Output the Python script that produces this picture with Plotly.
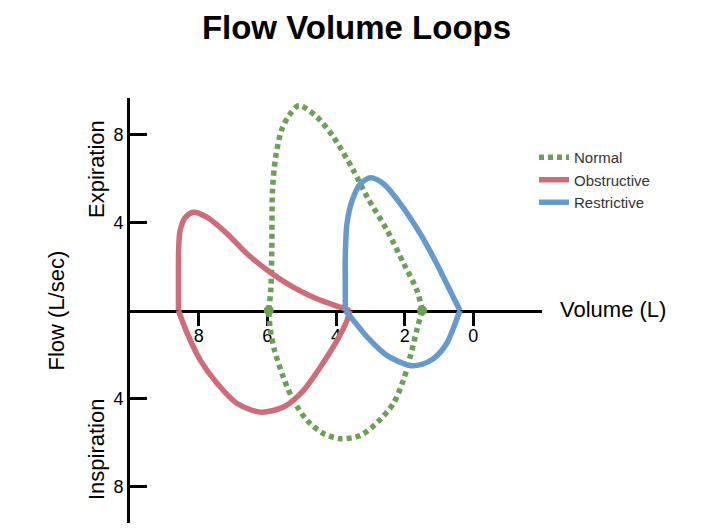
import plotly.graph_objects as go

# ---- data (volume in L, flow in L/sec; expiration positive) ----
normal_exp_vol = [5.96, 5.90, 5.87, 5.85, 5.76, 5.59, 5.37, 5.08, 4.55, 4.07, 3.49, 3.09, 2.51, 2.03, 1.64, 1.49]
normal_exp_flow = [0.0, 0.91, 2.73, 5.45, 6.95, 8.18, 8.86, 9.32, 8.79, 7.88, 6.36, 5.15, 3.64, 2.14, 0.91, 0.0]
normal_insp_vol = [1.49, 1.65, 1.83, 2.04, 2.33, 2.77, 3.29, 3.87, 4.37, 4.84, 5.24, 5.53, 5.79, 5.91, 5.96]
normal_insp_flow = [0.0, -0.91, -2.05, -3.18, -4.23, -5.05, -5.68, -5.83, -5.59, -5.0, -4.09, -3.05, -1.82, -0.91, 0.0]

obstr_exp_vol = [8.59, 8.59, 8.58, 8.54, 8.39, 8.15, 7.76, 7.18, 6.60, 5.92, 5.25, 4.56, 3.88, 3.59]
obstr_exp_flow = [0.0, 1.82, 2.95, 3.64, 4.23, 4.47, 4.24, 3.50, 2.59, 1.74, 1.06, 0.53, 0.15, 0.0]
obstr_insp_vol = [3.59, 3.68, 3.97, 4.46, 4.95, 5.53, 6.20, 6.88, 7.46, 7.95, 8.33, 8.59]
obstr_insp_flow = [0.0, -0.45, -1.36, -2.58, -3.64, -4.39, -4.62, -4.23, -3.32, -2.27, -1.05, 0.0]

restr_exp_vol = [3.73, 3.73, 3.73, 3.68, 3.53, 3.29, 3.00, 2.62, 2.13, 1.55, 1.07, 0.68, 0.39]
restr_exp_flow = [0.0, 1.36, 2.42, 3.95, 5.00, 5.76, 6.03, 5.76, 4.86, 3.50, 2.14, 0.91, 0.0]
restr_insp_vol = [0.39, 0.53, 0.78, 1.17, 1.50, 1.84, 2.51, 3.09, 3.49, 3.73]
restr_insp_flow = [0.0, -0.59, -1.51, -2.20, -2.45, -2.50, -2.05, -1.21, -0.45, 0.0]

normal_points_vol = [5.96, 1.49]
normal_points_flow = [0.0, 0.0]

x_tickvals = [8, 6, 4, 2, 0]
x_ticktext = ["8", "6", "4", "2", "0"]
y_tickvals = [8, 4, -4, -8]
y_ticktext = ["8", "4", "4", "8"]

GREEN = "#6c9f57"
RED = "#cd6d79"
BLUE = "#6799ca"
FONT = "Liberation Sans, Arial, sans-serif"
LW = 5.5

# page body adds an 8px offset; compensate so the plot sits where the reference has it
OFF = 8
L, T = 130 - OFF, 98 - OFF
PW, PH = 412, 425

fig = go.Figure()

def loop(name, color, ev, ef, iv, if_, dash="solid"):
    fig.add_trace(go.Scatter(x=ev, y=ef, mode="lines", name=name, legendgroup=name,
                             line=dict(color=color, width=LW, dash=dash, shape="spline", smoothing=0.8)))
    fig.add_trace(go.Scatter(x=iv, y=if_, mode="lines", name=name, legendgroup=name, showlegend=False,
                             line=dict(color=color, width=LW, dash=dash, shape="spline", smoothing=0.8)))

loop("Normal", GREEN, normal_exp_vol, normal_exp_flow, normal_insp_vol, normal_insp_flow, dash="5px,4px")
loop("Obstructive", RED, obstr_exp_vol, obstr_exp_flow, obstr_insp_vol, obstr_insp_flow)
loop("Restrictive", BLUE, restr_exp_vol, restr_exp_flow, restr_insp_vol, restr_insp_flow)
fig.add_trace(go.Scatter(x=normal_points_vol, y=normal_points_flow, mode="markers", showlegend=False,
                         marker=dict(color=GREEN, size=10)))

fig.update_layout(
    width=702, height=530,
    margin=dict(l=L, r=702 - L - PW, t=T, b=530 - T - PH, autoexpand=False),
    paper_bgcolor="white", plot_bgcolor="white",
    font=dict(family=FONT, color="black"),
    title=dict(text="<b>Flow Volume Loops</b>", x=(356.5 - OFF) / 702, xref="container", xanchor="center",
               y=1 - (27 - OFF) / 530, yref="container", yanchor="middle",
               font=dict(size=33, family=FONT, color="black")),
    showlegend=True,
    legend=dict(x=1.0 - 8 / PW, xanchor="left", y=1 - (141 - 98) / PH, yanchor="top", bgcolor="rgba(0,0,0,0)",
                font=dict(size=15, color="#333333", family=FONT), tracegroupgap=0, itemwidth=30),
    xaxis=dict(range=[10, -2], anchor="free", position=0.5, showgrid=False, zeroline=False,
               showline=True, linecolor="black", linewidth=3, layer="below traces",
               ticks="outside", ticklen=13, tickwidth=3, tickcolor="black", ticklabelstandoff=-5,
               tickvals=x_tickvals, ticktext=x_ticktext, tickfont=dict(size=18, color="black")),
    yaxis=dict(range=[-9.66, 9.66], showgrid=False, zeroline=False,
               showline=True, linecolor="black", linewidth=3, layer="below traces",
               ticks="inside", ticklen=17, tickwidth=3, tickcolor="black",
               tickvals=y_tickvals, ticktext=y_ticktext, tickfont=dict(size=18, color="black")),
    annotations=[
        dict(text="Volume (L)", xref="paper", x=(558 - 130) / PW, xanchor="left",
             yref="y", y=0, yanchor="middle", yshift=1, showarrow=False,
             font=dict(size=22, family=FONT, color="black")),
        dict(text="Flow (L/sec)", xref="paper", x=(56 - 130) / PW, xanchor="center",
             yref="y", y=0, yanchor="middle", textangle=-90, showarrow=False,
             font=dict(size=22, family=FONT, color="black")),
        dict(text="Expiration", xref="paper", x=(96.5 - 130) / PW, xanchor="center",
             yref="y", y=6.41, yanchor="middle", textangle=-90, showarrow=False,
             font=dict(size=22, family=FONT, color="black")),
        dict(text="Inspiration", xref="paper", x=(96.5 - 130) / PW, xanchor="center",
             yref="y", y=-6.32, yanchor="middle", textangle=-90, showarrow=False,
             font=dict(size=22, family=FONT, color="black")),
    ],
)

fig.write_html("out.html")
